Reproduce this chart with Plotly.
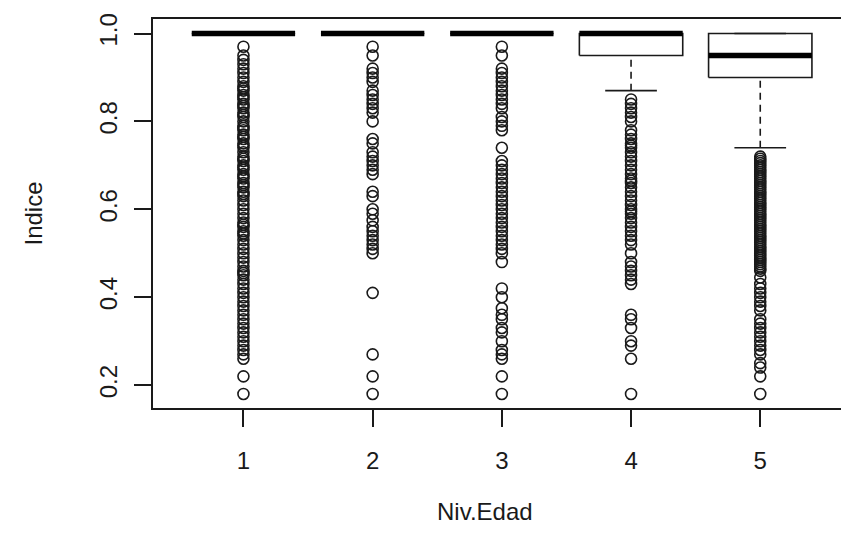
import plotly.graph_objects as go

# ---- data ----
categories = [1, 2, 3, 4, 5]
cat_labels = ["1", "2", "3", "4", "5"]
q1 = [1.0, 1.0, 1.0, 0.95, 0.90]
median = [1.0, 1.0, 1.0, 1.0, 0.95]
q3 = [1.0, 1.0, 1.0, 1.0, 1.0]
lower_whisker = [1.0, 1.0, 1.0, 0.87, 0.74]
upper_whisker = [1.0, 1.0, 1.0, 1.0, 1.0]

out_1 = [0.97, 0.95, 0.94, 0.93, 0.92, 0.91, 0.90, 0.89, 0.88, 0.875, 0.87, 0.86, 0.855,
         0.85, 0.84, 0.835, 0.83, 0.82, 0.815, 0.81, 0.80, 0.79, 0.785, 0.78, 0.77, 0.765,
         0.76, 0.75, 0.745, 0.74, 0.73, 0.72, 0.715, 0.71, 0.70, 0.695, 0.69, 0.68, 0.675,
         0.67, 0.66, 0.655, 0.65, 0.64, 0.635, 0.63, 0.62, 0.61, 0.60, 0.59, 0.58, 0.57,
         0.565, 0.56, 0.55, 0.545, 0.54, 0.53, 0.52, 0.51, 0.50, 0.49, 0.48, 0.47, 0.46,
         0.455, 0.45, 0.44, 0.43, 0.42, 0.41, 0.40, 0.39, 0.38, 0.37, 0.36, 0.35, 0.34,
         0.33, 0.32, 0.31, 0.30, 0.29, 0.28, 0.27, 0.26, 0.22, 0.18]
out_2 = [0.97, 0.95, 0.92, 0.91, 0.90, 0.89, 0.87, 0.86, 0.85, 0.84, 0.83, 0.82, 0.80,
         0.76, 0.75, 0.73, 0.72, 0.71, 0.70, 0.69, 0.68, 0.64, 0.63, 0.60, 0.59, 0.575,
         0.56, 0.55, 0.54, 0.53, 0.52, 0.51, 0.50, 0.41, 0.27, 0.22, 0.18]
out_3 = [0.97, 0.95, 0.92, 0.91, 0.90, 0.89, 0.88, 0.87, 0.86, 0.85, 0.84, 0.83, 0.81,
         0.80, 0.79, 0.78, 0.74, 0.71, 0.70, 0.69, 0.68, 0.67, 0.66, 0.65, 0.64, 0.63,
         0.62, 0.61, 0.60, 0.59, 0.58, 0.57, 0.56, 0.55, 0.54, 0.53, 0.52, 0.51, 0.50,
         0.48, 0.42, 0.40, 0.375, 0.36, 0.35, 0.33, 0.32, 0.30, 0.28, 0.27, 0.26, 0.22, 0.18]
out_4 = [0.85, 0.84, 0.83, 0.82, 0.81, 0.80, 0.78, 0.77, 0.76, 0.75, 0.745, 0.74, 0.73,
         0.72, 0.71, 0.70, 0.69, 0.68, 0.67, 0.665, 0.66, 0.65, 0.64, 0.63, 0.62, 0.61,
         0.60, 0.595, 0.59, 0.58, 0.57, 0.56, 0.55, 0.54, 0.53, 0.52, 0.50, 0.48, 0.47,
         0.46, 0.45, 0.44, 0.43, 0.36, 0.35, 0.33, 0.30, 0.29, 0.26, 0.18]
out_5 = [0.72, 0.715, 0.71, 0.705, 0.70, 0.695, 0.69, 0.685, 0.68, 0.675, 0.67, 0.665,
         0.66, 0.655, 0.65, 0.645, 0.64, 0.635, 0.63, 0.625, 0.62, 0.615, 0.61, 0.605,
         0.60, 0.595, 0.59, 0.585, 0.58, 0.575, 0.57, 0.565, 0.56, 0.555, 0.55, 0.545,
         0.54, 0.535, 0.53, 0.525, 0.52, 0.515, 0.51, 0.505, 0.50, 0.495, 0.49, 0.485,
         0.48, 0.475, 0.47, 0.465, 0.46, 0.445, 0.43, 0.42, 0.41, 0.40, 0.39, 0.38, 0.37,
         0.35, 0.34, 0.33, 0.32, 0.31, 0.30, 0.29, 0.28, 0.27, 0.25, 0.24, 0.22, 0.18]
outliers = [out_1, out_2, out_3, out_4, out_5]

y_ticks = [0.2, 0.4, 0.6, 0.8, 1.0]
y_tick_labels = ["0.2", "0.4", "0.6", "0.8", "1.0"]
x_title = "Niv.Edad"
y_title = "Indice"

# ---- styling ----
FONT = "Liberation Sans, Arial, sans-serif"
FS = 24
INK = "#1a1a1a"
HALF = 0.4   # half box width (R boxwex 0.8)
CAP = 0.2    # half staple width

box_x, box_y, med_x, med_y, wh_x, wh_y, cap_x, cap_y = [], [], [], [], [], [], [], []
for c, a, m, b, lw, uw in zip(categories, q1, median, q3, lower_whisker, upper_whisker):
    box_x += [c - HALF, c + HALF, c + HALF, c - HALF, c - HALF, None]
    box_y += [a, a, b, b, a, None]
    med_x += [c - HALF, c + HALF, None]
    med_y += [m, m, None]
    wh_x += [c, c, None, c, c, None]
    wh_y += [lw, a, None, b, uw, None]
    cap_x += [c - CAP, c + CAP, None, c - CAP, c + CAP, None]
    cap_y += [lw, lw, None, uw, uw, None]

ox, oy = [], []
for c, vals in zip(categories, outliers):
    ox += [c] * len(vals)
    oy += vals

fig = go.Figure()
fig.add_trace(go.Scatter(x=wh_x, y=wh_y, mode="lines",
                         line=dict(color=INK, width=1.6, dash="7px,5px"), hoverinfo="skip"))
fig.add_trace(go.Scatter(x=cap_x, y=cap_y, mode="lines",
                         line=dict(color=INK, width=1.6), hoverinfo="skip"))
fig.add_trace(go.Scatter(x=box_x, y=box_y, mode="lines",
                         line=dict(color=INK, width=1.6), hoverinfo="skip"))
fig.add_trace(go.Scatter(x=med_x, y=med_y, mode="lines",
                         line=dict(color="black", width=5.5), hoverinfo="skip"))
fig.add_trace(go.Scatter(x=ox, y=oy, mode="markers",
                         marker=dict(symbol="circle-open", size=11, color=INK,
                                     line=dict(width=1.6, color=INK))))

fig.update_layout(
    width=841, height=547,
    margin=dict(l=153, r=0, t=19, b=139),
    paper_bgcolor="white", plot_bgcolor="white",
    showlegend=False,
    font=dict(family=FONT, size=FS, color=INK),
    xaxis=dict(range=[0.3, 5.625], tickvals=categories, ticktext=cat_labels,
               ticks="outside", ticklen=17, tickwidth=1.6, tickcolor=INK,
               showline=True, linecolor=INK, linewidth=1.6, mirror=True,
               showgrid=False, zeroline=False, ticklabelstandoff=13),
    yaxis=dict(range=[0.148, 1.033], tickvals=y_ticks, ticktext=y_tick_labels,
               tickangle=-90, ticks="outside", ticklen=17, tickwidth=1.6, tickcolor=INK,
               showline=True, linecolor=INK, linewidth=1.6,
               showgrid=False, zeroline=False, ticklabelstandoff=8),
    annotations=[
        dict(text=x_title, xref="paper", yref="paper", x=(485 - 153) / 688, y=-0.267,
             xanchor="center", yanchor="middle", showarrow=False,
             font=dict(family=FONT, size=FS, color=INK)),
        dict(text=y_title, xref="paper", yref="paper", x=-0.1744, y=0.5,
             xanchor="center", yanchor="middle", textangle=-90, showarrow=False,
             font=dict(family=FONT, size=FS, color=INK)),
    ],
)

fig.write_html("out.html", config={"displayModeBar": False},
               post_script="document.body.style.margin='0px';document.body.style.overflow='hidden';")
